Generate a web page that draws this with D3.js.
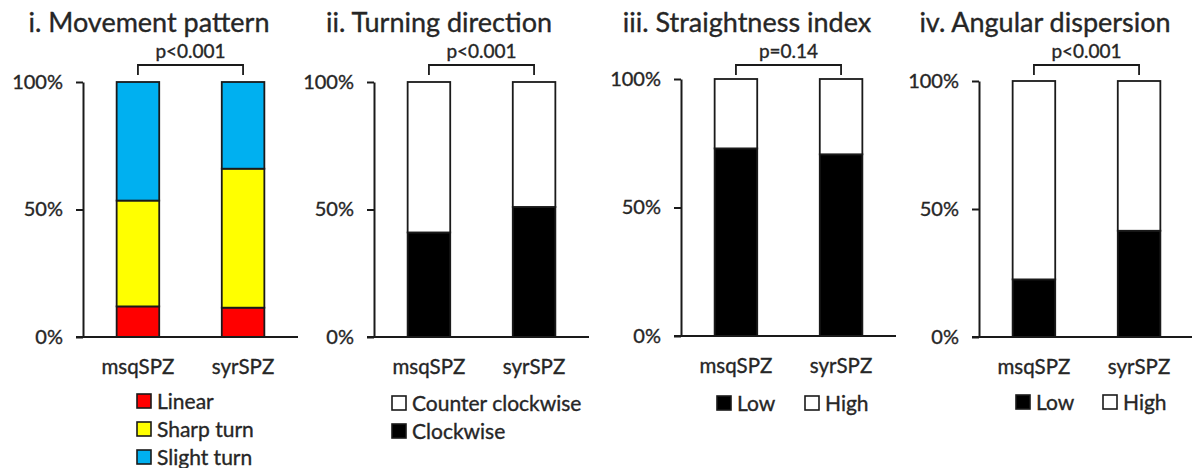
<!DOCTYPE html>
<html>
<head>
<meta charset="utf-8">
<script src="https://cdn.jsdelivr.net/npm/d3@7"></script>
<style>
  html, body { margin: 0; padding: 0; background: #fff; }
  svg { display: block; }
  text { font-family: Lato, "Open Sans", sans-serif; fill: #262626; stroke: #262626; stroke-width: 0.35px; }
</style>
</head>
<body>
<svg id="chart" width="1192" height="468"></svg>
<script>
// ---------- data ----------
const groups = ["msqSPZ", "syrSPZ"];
const yTickValues = [0, 0.5, 1];
const yTickLabels = ["0%", "50%", "100%"];

const titles = ["i. Movement pattern", "ii. Turning direction", "iii. Straightness index", "iv. Angular dispersion"];
const pValues = ["p<0.001", "p<0.001", "p=0.14", "p<0.001"];

// Panel i: Movement pattern (stack bottom -> top)
const movementCats = ["Linear", "Sharp turn", "Slight turn"];
const movementColors = ["#FF0000", "#FFFF00", "#00B0F0"];
const movementMsq = [12, 41.5, 46.5];
const movementSyr = [11.5, 54.5, 34];

// Panel ii: Turning direction (stack bottom -> top)
const turningCats = ["Clockwise", "Counter clockwise"];
const turningColors = ["#000000", "#FFFFFF"];
const turningMsq = [41, 59];
const turningSyr = [51, 49];

// Panel iii: Straightness index
const straightCats = ["Low", "High"];
const straightColors = ["#000000", "#FFFFFF"];
const straightMsq = [73, 27];
const straightSyr = [70.7, 29.3];

// Panel iv: Angular dispersion
const angularCats = ["Low", "High"];
const angularColors = ["#000000", "#FFFFFF"];
const angularMsq = [22.5, 77.5];
const angularSyr = [41.5, 58.5];

// ---------- layout ----------
const panels = [
  { cats: movementCats, colors: movementColors, vals: [movementMsq, movementSyr],
    axisX: 83, yTop: 82, yBot: 337, titleX: 149,
    legend: { type: "column", dx: 54, order: [0, 1, 2], y0: 401, dy: 28 } },
  { cats: turningCats, colors: turningColors, vals: [turningMsq, turningSyr],
    axisX: 374, yTop: 82, yBot: 337, titleX: 439,
    legend: { type: "column", dx: 18, order: [1, 0], y0: 403, dy: 28 } },
  { cats: straightCats, colors: straightColors, vals: [straightMsq, straightSyr],
    axisX: 681, yTop: 79, yBot: 336, titleX: 747,
    legend: { type: "row", dx: 36, dx2: 124, order: [0, 1], y0: 403 } },
  { cats: angularCats, colors: angularColors, vals: [angularMsq, angularSyr],
    axisX: 979, yTop: 81, yBot: 337, titleX: 1045,
    legend: { type: "row", dx: 37, dx2: 124, order: [0, 1], y0: 402 } }
];

const svg = d3.select("#chart");
const INK = "#1a1a1a";

panels.forEach((p, pi) => {
  const g = svg.append("g");
  const x = d3.scaleBand().domain(groups).range([p.axisX, p.axisX + 215])
    .paddingInner(0.595).paddingOuter(0.32);
  const y = d3.scaleLinear().domain([0, 1]).range([p.yBot, p.yTop]);

  // title
  g.append("text").attr("x", p.titleX).attr("y", 32)
    .attr("text-anchor", "middle").attr("font-size", 27)
    .text(titles[pi]);

  // stacked data
  const rows = groups.map((grp, gi) => {
    const o = { group: grp };
    p.cats.forEach((c, ci) => o[c] = p.vals[gi][ci] / 100);
    return o;
  });
  const stack = d3.stack().keys(p.cats)(rows);
  const color = d3.scaleOrdinal().domain(p.cats).range(p.colors);

  g.selectAll("g.layer").data(stack).join("g").attr("class", "layer")
    .attr("fill", d => color(d.key))
    .selectAll("rect").data(d => d).join("rect")
    .attr("x", d => x(d.data.group))
    .attr("width", x.bandwidth())
    .attr("y", d => y(d[1]))
    .attr("height", d => y(d[0]) - y(d[1]))
    .attr("stroke", INK).attr("stroke-width", 1.8);

  // y axis
  const yAxis = d3.axisLeft(y).tickValues(yTickValues)
    .tickFormat((d, i) => yTickLabels[i]).tickSize(7).tickSizeOuter(0).tickPadding(13);
  const ya = g.append("g").attr("transform", `translate(${p.axisX},0)`).call(yAxis);
  ya.select(".domain").attr("stroke", INK).attr("stroke-width", 2);
  ya.selectAll(".tick line").attr("stroke", INK).attr("stroke-width", 2);
  ya.selectAll(".tick text").attr("font-size", 20).attr("font-family", "Lato").attr("fill", "#262626");

  // x axis
  const xAxis = d3.axisBottom(x).tickSize(0).tickPadding(22);
  const xa = g.append("g").attr("transform", `translate(0,${p.yBot})`).call(xAxis);
  xa.select(".domain").remove();
  xa.append("line").attr("x1", x.range()[0] - 7).attr("x2", x.range()[1])
    .attr("stroke", INK).attr("stroke-width", 2);
  xa.selectAll(".tick text").attr("font-size", 20.5).attr("font-family", "Lato").attr("fill", "#262626");

  // significance bracket
  const c0 = x(groups[0]) + x.bandwidth() / 2;
  const c1 = x(groups[1]) + x.bandwidth() / 2;
  g.append("path")
    .attr("d", `M${c0},${75}V${65}H${c1}V${75}`)
    .attr("fill", "none").attr("stroke", INK).attr("stroke-width", 1.8);
  g.append("text").attr("x", (c0 + c1) / 2).attr("y", 58)
    .attr("text-anchor", "middle").attr("font-size", 19).text(pValues[pi]);

  // legend
  const L = p.legend;
  L.order.forEach((ci, k) => {
    let lx, ly;
    if (L.type === "column") { lx = p.axisX + L.dx; ly = L.y0 + k * L.dy; }
    else { lx = p.axisX + (k === 0 ? L.dx : L.dx2); ly = L.y0; }
    g.append("rect").attr("x", lx).attr("y", ly - 7).attr("width", 14).attr("height", 14)
      .attr("fill", p.colors[ci]).attr("stroke", INK).attr("stroke-width", 1.6);
    g.append("text").attr("x", lx + 20).attr("y", ly).attr("dy", "0.36em")
      .attr("font-size", 21).text(p.cats[ci]);
  });
});
</script>
</body>
</html>
